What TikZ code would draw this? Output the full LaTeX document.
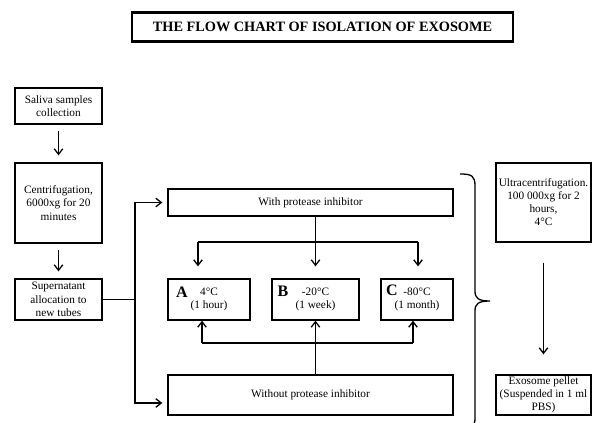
\documentclass[tikz,border=0pt]{standalone}
\usepackage{fontspec}
\setmainfont{Liberation Serif}
\usetikzlibrary{arrows.meta}
\begin{document}
\begin{tikzpicture}[x=1pt,y=-1pt,
	box/.style={draw, line width=1.3pt, align=center, inner sep=0pt, font=\fontsize{11.3}{13.5}\selectfont},
	arr/.style={-{Straight Barb[length=5.5pt,width=8.5pt]}, line width=1.3pt},
	letter/.style={font=\fontsize{16}{16}\selectfont\bfseries}]
	\useasboundingbox (0,0) rectangle (592,423);
	\clip (0,0) rectangle (592,423);
	
	\node[draw, line width=2.4pt, minimum width=381pt, minimum height=29pt, font=\fontsize{14.3}{16}\selectfont\bfseries] (title) at (322.5,27) {THE FLOW CHART OF ISOLATION OF EXOSOME};
	
	\node[box, minimum width=87pt, minimum height=36pt] (saliva) at (58.5,106)   {Saliva samples\\collection};
	\node[box, minimum width=87pt, minimum height=80pt] (centri) at (58.5,203)   {Centrifugation,\\6000xg for 20\\minutes};
	\node[box, minimum width=87pt, minimum height=41pt] (super)  at (58.5,299.5) {Supernatant\\allocation to\\new tubes};
	
	\node[box, minimum width=285pt, minimum height=27pt] (with)    at (310.5,202.5) {With protease inhibitor};
	\node[box, minimum width=285pt, minimum height=40pt] (without) at (310.5,395)   {Without protease inhibitor};
	
	\node[box, minimum width=82pt, minimum height=41pt] (A) at (209,299.5)   {4°C\\(1 hour)};
	\node[box, minimum width=87pt, minimum height=41pt] (B) at (315.5,299.5) {-20°C\\(1 week)};
	\node[box, minimum width=72pt, minimum height=41pt] (C) at (417,299.5)   {-80°C\\(1 month)};
	\node[letter] (la) at (182,292) {A};
	\node[letter] (lb) at (283,291) {B};
	\node[letter] (lc) at (392,290) {C};
	
	\node[box, minimum width=95pt, minimum height=79pt, font=\fontsize{11.3}{13}\selectfont] (ultra) at (543.5,202.5) {Ultracentrifugation.\\100 000xg for 2\\hours,\\4°C};
	\node[box, minimum width=95pt, minimum height=40pt, font=\fontsize{11.3}{13}\selectfont] (exo)   at (543.5,395)   {Exosome pellet\\(Suspended in 1 ml\\PBS)};
	
	\foreach \u/\v in {saliva/centri, centri/super}
	{	\draw[arr, shorten <=6pt, shorten >=7pt] (\u) -- (\v);
	}
	
	\coordinate (split) at (135,299.5);
	\coordinate (wo) at (135,403);
	\draw[line width=1.3pt] (super) -- (split);
	\draw[arr, shorten >=5pt] (split) |- (with);
	\draw[arr, shorten >=5pt] (split) -- (wo) -- (wo -| without.west);
	
	\coordinate (ja) at (198,242);
	\coordinate (jc) at (418,242);
	\draw[arr, shorten >=12pt] (with.south -| B) -- (B.north);
	\draw[line width=1.3pt] (ja) -- (jc);
	\foreach \j/\n in {ja/A, jc/C}
	{	\draw[arr, shorten >=12pt] (\j) -- (\j |- \n.north);
	}
	
	\coordinate (ka) at (202,343);
	\coordinate (kc) at (413,343);
	\draw[arr] (without.north -| B) -- (B.south);
	\draw[line width=1.3pt] (ka) -- (kc);
	\foreach \k/\n in {ka/A, kc/C}
	{	\draw[arr] (\k) -- (\k |- \n.south);
	}
	
	% brace
	\draw[line width=1.3pt] (460,174) .. controls (472,174) and (475,176) .. (475,186) -- (475,291)
		.. controls (475,298) and (478,301) .. (490,301)
		.. controls (478,301) and (475,304) .. (475,311) -- (475,418)
		.. controls (475,426) and (472,428) .. (460,428);
	
	\draw[arr, shorten <=20pt, shorten >=20pt] (ultra) -- (exo);
\end{tikzpicture}
\end{document}
